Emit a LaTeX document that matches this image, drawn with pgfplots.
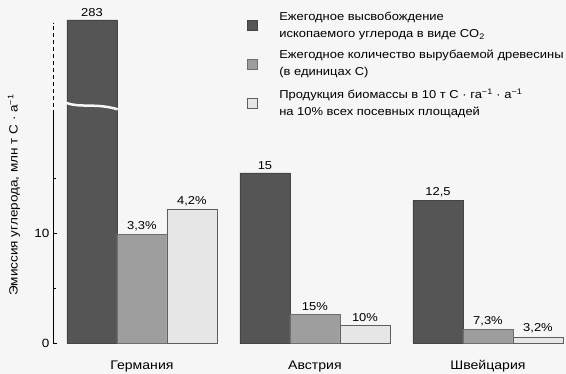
\documentclass[border=0pt]{standalone}
\usepackage{fontspec}
\setmainfont[FakeStretch=1.13]{Liberation Sans}
\usepackage{pgfplots}
\pgfplotsset{compat=1.18}
\definecolor{bgc}{HTML}{F6F6F6}
\definecolor{cA}{HTML}{555555}
\definecolor{cAd}{HTML}{444444}
\definecolor{cB}{HTML}{9E9E9E}
\definecolor{cBd}{HTML}{6E6E6E}
\definecolor{cC}{HTML}{E6E6E6}
\definecolor{cCd}{HTML}{5E5E5E}
\begin{document}
\begin{tikzpicture}
\fill[bgc] (0bp,0bp) rectangle (566bp,374bp);
\useasboundingbox (0bp,0bp) rectangle (566bp,374bp);
\begin{axis}[
  at={(53bp,31bp)}, anchor=south west,
  scale only axis, width=513bp, height=323bp,
  xmin=-0.514, xmax=2.451, ymin=0, ymax=29.44,
  axis line style={draw=none},
  ybar=0pt, bar width=0.289,
  xtick={0,1,2}, xticklabels={Германия,Австрия,Швейцария},
  xtick style={draw=none},
  xticklabel style={yshift=-10bp, font=\fontsize{12.5}{14}\selectfont},
  yticklabel style={font=\fontsize{12}{14}\selectfont},
  ytick={0,10}, minor ytick={5,15},
  ytick pos=left, ytick style={black, line width=0.6pt},
  major tick length=4bp, minor tick length=3bp,
  font=\fontsize{11.5}{13.5}\selectfont,
  /pgf/number format/assume math mode=true,
  restrict y to domain*=0:29.44,
  clip=false,
  nodes near coords, point meta=explicit symbolic,
  nodes near coords style={text=black, font=\fontsize{11.5}{13.5}\selectfont},
  ylabel={Эмиссия углерода, млн т С · а\textsuperscript{−1}},
  ylabel style={at={(axis description cs:-0.076,0.458)}, anchor=center, font=\fontsize{12}{14}\selectfont},
  legend style={at={(axis description cs:0.378,1.031)}, anchor=north west, draw=none, fill=none, inner sep=0pt, row sep=7.5bp, font=\fontsize{11.5}{17}\selectfont, cells={align=left}},
  legend cell align=left,
  legend image code/.code={\draw[#1,line width=0.4pt] (0bp,-5bp) rectangle (10bp,5bp); \path[draw=none,fill=none] (0bp,0bp) -- (30bp,0bp);},
]
\addplot[fill=cA, draw=cAd] coordinates {(0,283) [283] (1,15.5) [15] (2,13) [12,5]};
\addlegendentry{Ежегодное высвобождение\\ископаемого углерода в виде CO\textsubscript{2}}
\addplot[fill=cB, draw=cBd] coordinates {(0,9.9) [3,3\%] (1,2.6) [15\%] (2,1.27) [7,3\%]};
\addlegendentry{Ежегодное количество вырубаемой древесины\\(в единицах С)}
\addplot[fill=cC, draw=cCd] coordinates {(0,12.2) [4,2\%] (1,1.6) [10\%] (2,0.55) [3,2\%]};
\addlegendentry{Продукция биомассы в 10 т С · га\textsuperscript{−1} · а\textsuperscript{−1}\\на 10\% всех посевных площадей}
\draw[bgc, line width=2.5bp] (axis cs:-0.44,21.9) .. controls (axis cs:-0.36,21.4) and (axis cs:-0.27,21.9) .. (axis cs:-0.14,21.3);
\draw[black, line width=0.8pt] (axis cs:-0.514,0) -- (axis cs:-0.514,20.9);
\draw[black, line width=0.8pt, dash pattern=on 4bp off 3bp] (axis cs:-0.514,20.9) -- (axis cs:-0.514,29.2);
\end{axis}
\end{tikzpicture}
\end{document}
